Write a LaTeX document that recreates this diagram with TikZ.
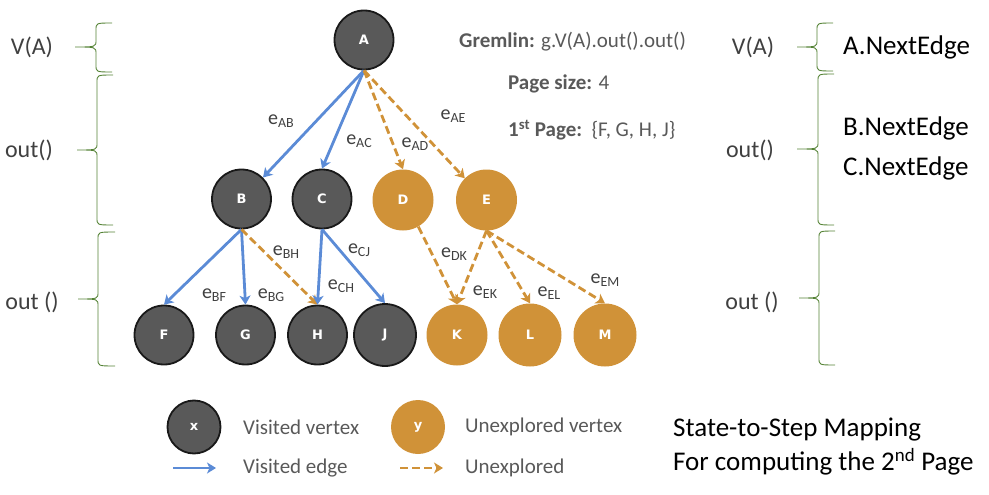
\documentclass[tikz,border=0pt]{standalone}
\usepackage{fontspec}
\setmainfont{Carlito}
\newfontfamily\nodefont{DejaVu Sans}
\usetikzlibrary{arrows.meta}
\definecolor{vis}{HTML}{595959}
\definecolor{unx}{HTML}{D09238}
\definecolor{edgeblue}{HTML}{5B8BD6}
\definecolor{brgreen}{HTML}{548235}
\definecolor{txtgray}{HTML}{595959}
\definecolor{lblgray}{HTML}{404040}
\newcommand\fsz[1]{\fontsize{#1}{#1}\selectfont}
\newcommand\elab[1]{e\raisebox{-0.35ex}{\fsz{14}#1}}
\newcommand\mybrace[6]{% xtip xspine xend top mid bot
  \draw[brgreen, line width=0.9pt] (#3,#4) .. controls (#2,#4) .. (#2,#4+7) -- (#2,#5-7) .. controls (#2,#5) .. (#1,#5)
    .. controls (#2,#5) .. (#2,#5+7) -- (#2,#6-7) .. controls (#2,#6) .. (#3,#6);}
\tikzset{
  visited/.style={circle, draw=black!90, line width=1.8pt, fill=vis, minimum size=59pt, inner sep=0pt,
    font=\nodefont\bfseries\fsz{13}, text=white},
  unexplored/.style={circle, fill=unx, minimum size=61pt, inner sep=0pt,
    font=\nodefont\bfseries\fsz{13}, text=white},
  tipstyle/.style={-{Stealth[length=9pt,width=11pt,inset=2.5pt]}},
  vedge/.style={draw=edgeblue, line width=2.8pt, tipstyle},
  uedge/.style={draw=unx, line width=2.8pt, dash pattern=on 8pt off 4pt, tipstyle},
  elabel/.style={font=\fsz{20}, text=lblgray, inner sep=0pt},
  levlabel/.style={font=\fsz{24}, text=lblgray, inner sep=0pt},
  infotext/.style={font=\fsz{21}, text=txtgray, inner sep=0pt, anchor=west},
  bigtext/.style={font=\fsz{27}, text=black, inner sep=0pt, anchor=west},
  legtext/.style={font=\fsz{21}, text=txtgray, inner sep=0pt, anchor=west},
}
\begin{document}
\begin{tikzpicture}[x=1pt,y=-1pt]
\useasboundingbox (0,0) rectangle (989,495);
% nodes
\node[visited] (A) at (364,40) {A};
\node[visited] (B) at (241.5,199) {B};
\node[visited] (C) at (322,199) {C};
\node[unexplored] (D) at (403,200) {D};
\node[unexplored] (E) at (486.5,200) {E};
\node[visited] (F) at (164,335) {F};
\node[visited] (G) at (245.5,335) {G};
\node[visited] (H) at (317.5,335) {H};
\node[visited, minimum size=62pt] (J) at (385,335) {J};
\node[unexplored] (K) at (457,335) {K};
\node[unexplored, minimum size=63pt] (L) at (530,335) {L};
\node[unexplored, minimum size=63pt] (M) at (605,335) {M};
% edges
\draw[vedge] (A.south) -- (B.north east);
\draw[vedge] (A.south) -- (C.north);
\draw[uedge] (A.south) -- (D.north);
\draw[uedge] (A.south) -- (E.north west);
\draw[vedge] (B.south) -- (F.north);
\draw[vedge] (B.south) -- (G.north);
\draw[uedge] (B.south) -- (H.north);
\draw[vedge] (C.south) -- (H.north);
\draw[vedge] (C.south) -- (J.north);
\draw[uedge] (D.-60) -- (K.north);
\draw[uedge] (E.south) -- (K.north);
\draw[uedge] (E.south) -- (L.north);
\draw[uedge] (E.south) -- (M.north);
% edge labels
\node[elabel] (lAB) at (281,121) {\elab{AB}};
\node[elabel] (lAC) at (359,141) {\elab{AC}};
\node[elabel] (lAD) at (415,144) {\elab{AD}};
\node[elabel] (lAE) at (453,116) {\elab{AE}};
\node[elabel] (lBF) at (214,295) {\elab{BF}};
\node[elabel] (lBG) at (271,295) {\elab{BG}};
\node[elabel] (lBH) at (286,252) {\elab{BH}};
\node[elabel] (lCH) at (341,286) {\elab{CH}};
\node[elabel] (lCJ) at (359,250) {\elab{CJ}};
\node[elabel] (lDK) at (454,254) {\elab{DK}};
\node[elabel] (lEK) at (485,292) {\elab{EK}};
\node[elabel] (lEL) at (549,293) {\elab{EL}};
\node[elabel] (lEM) at (605,280) {\elab{EM}};
% info text
\node[infotext] (grem) at (459,42) {\textbf{Gremlin:} g.V(A).out().out()};
\node[infotext] (psize) at (508,84) {\textbf{Page size:} 4};
\node[infotext] (first) at (508,130) {\textbf{1\textsuperscript{st} Page:}\ \ \{F, G, H, J\}};
% left braces and labels
\mybrace{75}{96}{112}{23}{47}{72}
\mybrace{77}{97}{113}{75}{150}{225}
\mybrace{78}{98}{115}{232}{299}{366}
\node[levlabel] (lv1) at (32,47) {V(A)};
\node[levlabel] (lv2) at (29,150) {out()};
\node[levlabel] (lv3) at (32,302) {out ()};
% right braces and labels
\mybrace{797}{817}{833}{23}{47}{71}
\mybrace{797}{818}{834}{74}{149}{225}
\mybrace{799}{819}{835}{231}{298}{365}
\node[levlabel] (rv1) at (753,47) {V(A)};
\node[levlabel] (rv2) at (750,150) {out()};
\node[levlabel] (rv3) at (752,302) {out ()};
\node[bigtext] (ane) at (843,47) {A.NextEdge};
\node[bigtext] (bne) at (843,128) {B.NextEdge};
\node[bigtext] (cne) at (843,168) {C.NextEdge};
\node[bigtext] (st1) at (673,430) {State-to-Step Mapping};
\node[bigtext] (st2) at (673,462) {For computing the 2\textsuperscript{nd} Page};
% legend
\node[visited, minimum size=53pt] (lx) at (194,427) {x};
\node[legtext] (lxt) at (243,427) {Visited vertex};
\node[unexplored, minimum size=54pt] (ly) at (418,427) {y};
\node[legtext] (lyt) at (465,427) {Unexplored vertex};
\coordinate (va) at (173,468);
\coordinate (vb) at (216,468);
\draw[vedge] (va) -- (vb);
\node[legtext] (vet) at (243,468) {Visited edge};
\coordinate (ua) at (400,468);
\coordinate (ub) at (443,468);
\draw[uedge] (ua) -- (ub);
\node[legtext] (uet) at (465,468) {Unexplored};
\end{tikzpicture}
\end{document}
